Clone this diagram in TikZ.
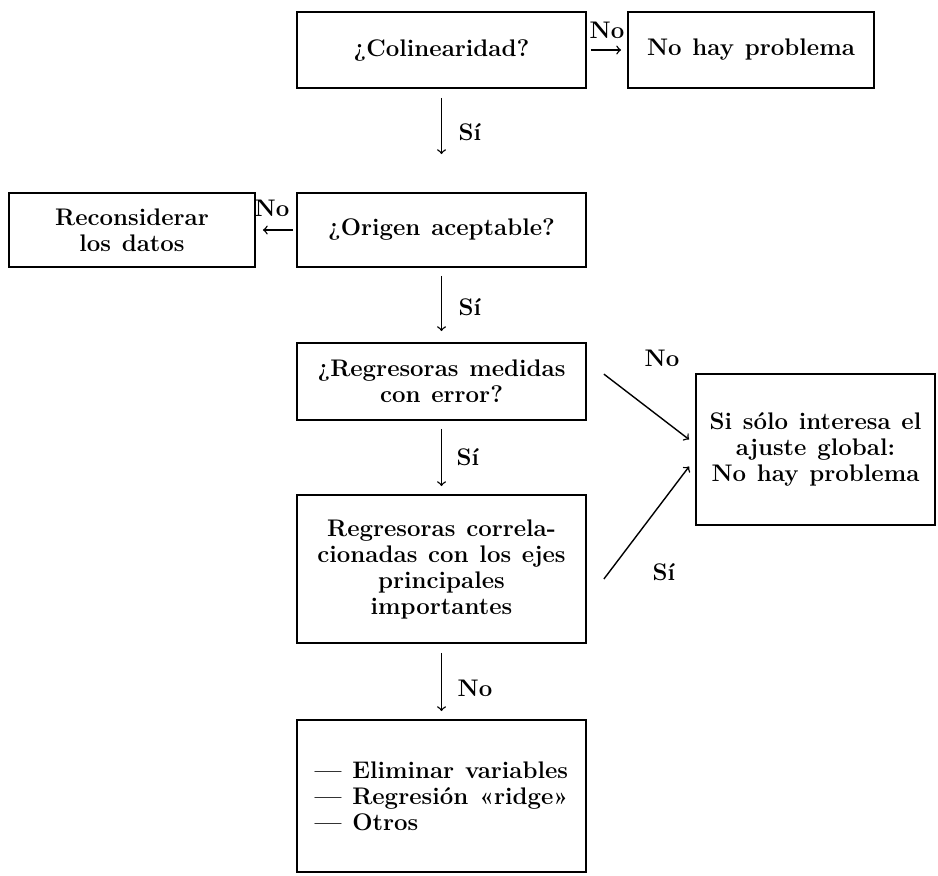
\documentclass[tikz,border=0pt]{standalone}
\usepackage{tikz}
\usetikzlibrary{positioning,arrows}

\begin{document}
\begin{tikzpicture}[x=0.5pt,y=-0.5pt]
\tikzstyle{every node}+=[inner sep=0pt]
\tikzstyle{caja}=[draw,line width=0.9pt,align=center,font=\bfseries\fontsize{12}{13}\selectfont,execute at begin node={\spaceskip=0.45em\relax}]
\tikzstyle{rotulo}=[font=\bfseries\fontsize{12}{13}\selectfont]
\tikzstyle{flecha}=[->,>=to,line width=0.7pt]
\useasboundingbox (0,0) rectangle (938,875);
\node [caja,minimum width=144.5pt,minimum height=38pt] (col) at (441.5,50) {¿Colinearidad?};
\node [caja,minimum width=123pt,minimum height=38pt] (nohay) at (751,50) {No hay problema};
\node [caja,minimum width=144.5pt,minimum height=37pt] (orig) at (441.5,230) {¿Origen aceptable?};
\node [caja,minimum width=123pt,minimum height=37pt] (recon) at (132,230) {Reconsiderar\\los datos};
\node [caja,minimum width=144.5pt,minimum height=38.5pt] (reg) at (441.5,381.5) {¿Regresoras medidas\\con error?};
\node [caja,minimum width=119.5pt,minimum height=75.5pt] (glob) at (815.5,449.5) {Si sólo interesa el\\ajuste global:\\No hay problema};
\node [caja,minimum width=144.5pt,minimum height=74pt] (corr) at (441.5,569) {Regresoras correla-\\cionadas con los ejes\\principales\\importantes};
\node [caja,minimum width=144.5pt,minimum height=76pt,align=left] (elim) at (441.5,796) {--- Eliminar variables\\--- Regresión «ridge»\\--- Otros};
\draw [flecha,shorten <=2pt,shorten >=3pt] (col) -- (nohay);
\node [rotulo] (no1) at (607,30) {No};
\draw [flecha,shorten <=4.5pt,shorten >=19pt] (col) -- (orig);
\node [rotulo] (si1) at (470,132) {Sí};
\draw [flecha,shorten <=1.5pt,shorten >=3.5pt] (orig) -- (recon);
\node [rotulo] (no2) at (272,208) {No};
\draw [flecha,shorten <=4pt,shorten >=5.5pt] (orig) -- (reg);
\node [rotulo] (si2) at (470,307) {Sí};
\draw [flecha,shorten <=4pt,shorten >=4pt] (reg) -- (corr);
\node [rotulo] (si3) at (468,457) {Sí};
\draw [flecha,shorten <=4.5pt,shorten >=4pt] (corr) -- (elim);
\node [rotulo] (no3) at (475,688) {No};
\draw [flecha] ([xshift=8.5pt,yshift=-16pt]reg.north east) -- ([xshift=-3pt,yshift=5pt]glob.west);
\node [rotulo] (no4) at (662,358) {No};
\draw [flecha] ([xshift=8.5pt,yshift=-5pt]corr.east) -- ([xshift=-3pt,yshift=-8.5pt]glob.west);
\node [rotulo] (si4) at (664,572) {Sí};
\end{tikzpicture}
\end{document}
